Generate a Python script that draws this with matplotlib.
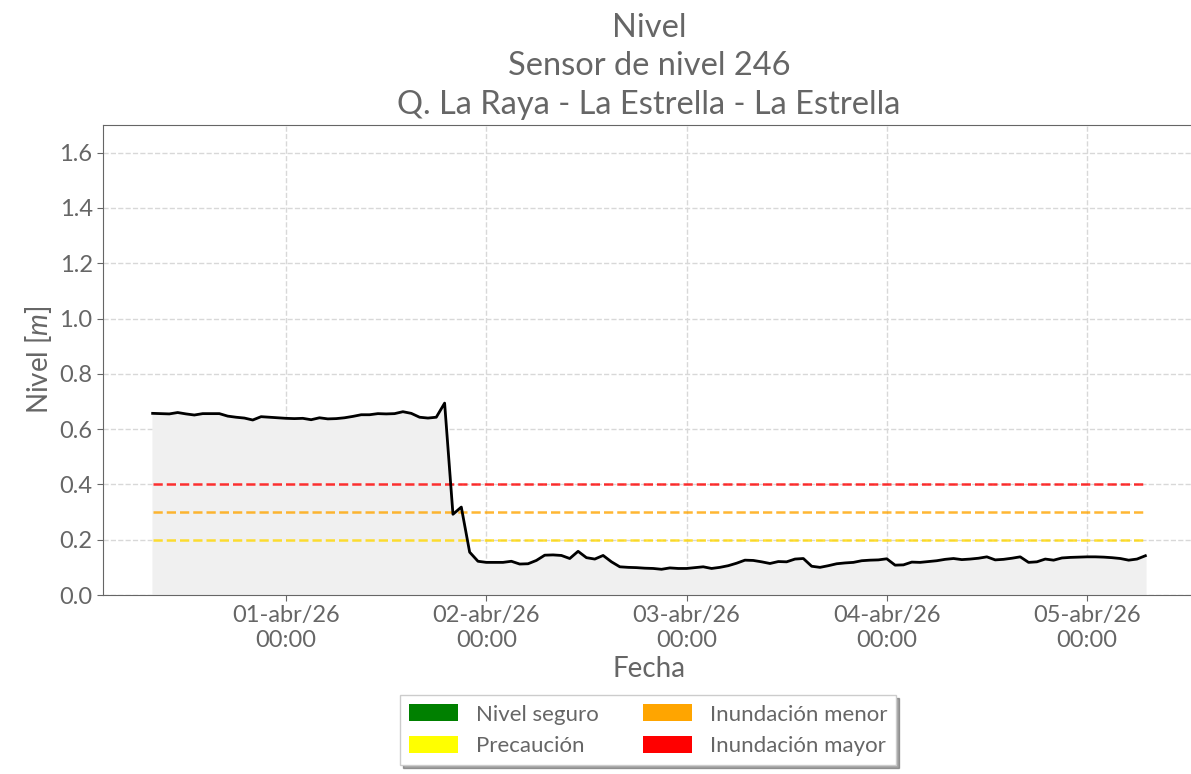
import matplotlib
matplotlib.use('Agg')
import matplotlib.pyplot as plt
import matplotlib.dates as mdates
from matplotlib.patches import Patch
from matplotlib.ticker import FuncFormatter
import pandas as pd

# datos del sensor (nivel cada hora)
inicio = '2026-03-31 08:00'
nivel = [0.657, 0.656, 0.655, 0.660, 0.655, 0.651, 0.656, 0.656, 0.656, 0.647,
         0.643, 0.640, 0.633, 0.645, 0.643, 0.641, 0.639, 0.638, 0.639, 0.634,
         0.641, 0.637, 0.638, 0.641, 0.646, 0.652, 0.652, 0.656, 0.655, 0.656,
         0.663, 0.657, 0.643, 0.640, 0.643, 0.694, 0.292, 0.318, 0.155, 0.122,
         0.118, 0.118, 0.118, 0.122, 0.112, 0.113, 0.125, 0.144, 0.145, 0.143,
         0.132, 0.158, 0.135, 0.130, 0.143, 0.120, 0.102, 0.100, 0.099, 0.097,
         0.096, 0.093, 0.098, 0.096, 0.096, 0.099, 0.102, 0.096, 0.100, 0.106,
         0.115, 0.126, 0.125, 0.120, 0.114, 0.121, 0.120, 0.130, 0.132, 0.104,
         0.100, 0.106, 0.113, 0.116, 0.118, 0.124, 0.126, 0.127, 0.131, 0.108,
         0.109, 0.119, 0.118, 0.121, 0.124, 0.129, 0.132, 0.128, 0.130, 0.133,
         0.138, 0.127, 0.129, 0.133, 0.138, 0.118, 0.120, 0.130, 0.126, 0.134,
         0.136, 0.137, 0.138, 0.138, 0.137, 0.135, 0.132, 0.126, 0.130, 0.142]
fechas = pd.date_range(inicio, periods=len(nivel), freq='h')

# umbrales
umbral_precaucion = 0.2
umbral_menor = 0.3
umbral_mayor = 0.4

etiquetas = ['Nivel seguro', 'Precaución', 'Inundación menor', 'Inundación mayor']
colores = ['green', 'yellow', 'orange', 'red']
meses = ['ene', 'feb', 'mar', 'abr', 'may', 'jun', 'jul', 'ago', 'sep', 'oct', 'nov', 'dic']

gris = '#666666'
plt.rcParams['font.family'] = ['Lato', 'DejaVu Sans']
plt.rcParams['mathtext.fontset'] = 'custom'
plt.rcParams['mathtext.it'] = 'Lato:italic'
plt.rcParams['mathtext.rm'] = 'Lato'

fig = plt.figure(figsize=(11.91, 7.74), dpi=100)
ax = fig.add_axes([103 / 1191, 1 - 595 / 774, 1092 / 1191, 470 / 774])

ax.fill_between(fechas, nivel, 0, color='#f0f0f0', zorder=1)
ax.plot(fechas, nivel, color='black', lw=2, zorder=4)
ax.plot([fechas[0], fechas[-1]], [umbral_mayor] * 2, '--', color='red', alpha=0.8, lw=1.8, zorder=3)
ax.plot([fechas[0], fechas[-1]], [umbral_menor] * 2, '--', color='orange', alpha=0.8, lw=1.8, zorder=3)
ax.plot([fechas[0], fechas[-1]], [umbral_precaucion] * 2, '--', color='gold', alpha=0.8, lw=1.8, zorder=3)

ax.set_ylim(0, 1.7)
ax.set_yticks([0.0, 0.2, 0.4, 0.6, 0.8, 1.0, 1.2, 1.4, 1.6])
ax.yaxis.set_major_formatter(FuncFormatter(lambda v, p: f'{v:.1f}'))
ax.xaxis.set_major_locator(mdates.DayLocator())


def fmt_fecha(x, pos):
    d = mdates.num2date(x)
    return f'{d.day:02d}-{meses[d.month - 1]}/{d.year % 100:02d}\n{d.hour:02d}:{d.minute:02d}'


ax.xaxis.set_major_formatter(FuncFormatter(fmt_fecha))
ax.grid(True, linestyle='--', color='#d8d8d8', lw=1, zorder=0)
ax.set_axisbelow(True)
for s in ax.spines.values():
    s.set_color(gris)
ax.tick_params(colors=gris, labelsize=17, length=4)

ax.set_xlabel('Fecha', fontsize=20, color=gris)
ax.set_ylabel('Nivel [$m$]', fontsize=20, color=gris)
ax.set_title('Nivel\nSensor de nivel 246\nQ. La Raya - La Estrella - La Estrella',
             fontsize=23.5, color=gris, pad=8, linespacing=1.35)

parches = [Patch(facecolor=c, edgecolor='none', label=e) for c, e in zip(colores, etiquetas)]
leg = ax.legend(handles=parches, loc='upper center', bbox_to_anchor=(0.5 - 1 / 1092, -0.19), ncol=2,
                fontsize=16, shadow=True, fancybox=False, handlelength=2.2, handleheight=0.8,
                columnspacing=2.0, edgecolor='#cccccc')
for t in leg.get_texts():
    t.set_color(gris)

plt.savefig('out.png', dpi=100)
